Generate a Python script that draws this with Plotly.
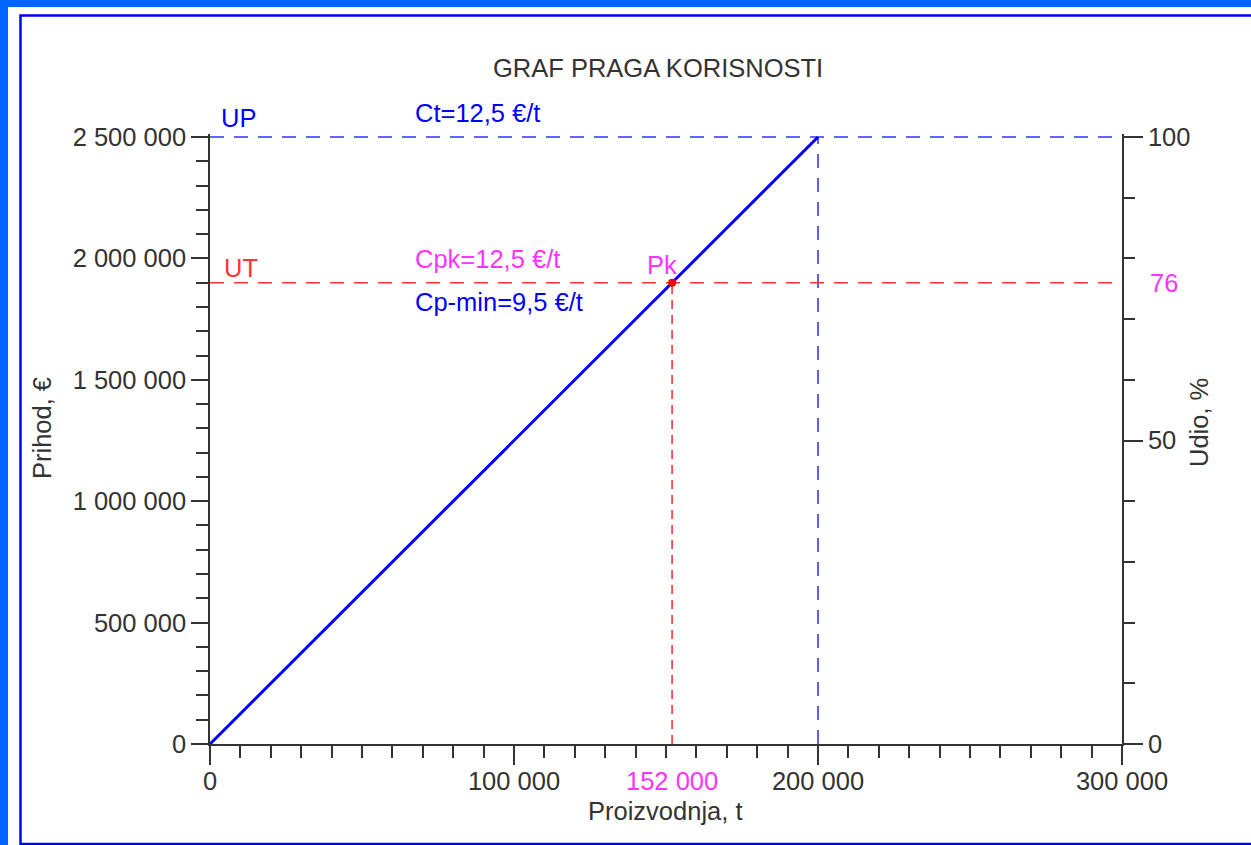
import plotly.graph_objects as go

# ---- data ----
prod_line = [0, 200000]          # t
revenue_line = [0, 2500000]      # EUR
x_range = [0, 300000]
y_max_value = 2500000
y2_max_value = 100
up_value = 2500000               # UP
ut_value = 1900000               # UT
pk_x = 152000                    # Pk production
pk_y = 1900000
max_prod = 200000
pk_share = 76                    # %
x_tickvals = [0, 100000, 200000, 300000]
x_ticktext = ["0", "100 000", "200 000", "300 000"]
y_tickvals = [0, 500000, 1000000, 1500000, 2000000, 2500000]
y_ticktext = ["0", "500 000", "1 000 000", "1 500 000", "2 000 000", "2 500 000"]
y2_tickvals = [0, 50, 100]
y2_ticktext = ["0", "50", "100"]

FONT = "Liberation Sans, Arial, sans-serif"
FS = 25.5
BLUE = "#0000ff"
BLUE_D = "#3333ff"
RED = "#ff3333"
MAG = "#ff33ff"
AX = "#333333"

W, H = 1251, 845
L, R, T, B = 210, 1122, 137, 744
EXT = 0.005  # small headroom so top dashed line is not clipped
T_PLOT = T - (B - T) * EXT

def px(xp):
    return (xp - L) / (R - L)

def py(yp):
    return (B - yp) / (B - T_PLOT)

fig = go.Figure()

dash_long = "14px,10px"
fig.add_trace(go.Scatter(x=[x_range[0], x_range[1]], y=[up_value, up_value], mode="lines",
                         line=dict(color=BLUE_D, width=1.6, dash=dash_long), hoverinfo="skip"))
fig.add_trace(go.Scatter(x=[max_prod, max_prod], y=[0, up_value], mode="lines",
                         line=dict(color=BLUE_D, width=1.6, dash=dash_long), hoverinfo="skip"))
fig.add_trace(go.Scatter(x=[x_range[0], x_range[1]], y=[ut_value, ut_value], mode="lines",
                         line=dict(color=RED, width=1.6, dash=dash_long), hoverinfo="skip"))
fig.add_trace(go.Scatter(x=[pk_x, pk_x], y=[0, pk_y], mode="lines",
                         line=dict(color=RED, width=1.6, dash="9px,6px"), hoverinfo="skip"))
fig.add_trace(go.Scatter(x=prod_line, y=revenue_line, mode="lines",
                         line=dict(color=BLUE, width=3), hoverinfo="skip"))
fig.add_trace(go.Scatter(x=[pk_x], y=[pk_y], mode="markers", cliponaxis=False,
                         marker=dict(color="#ff0000", size=8), hoverinfo="skip"))
fig.add_trace(go.Scatter(x=[0], y=[0], yaxis="y2", mode="markers",
                         marker=dict(opacity=0), hoverinfo="skip"))

axis_common = dict(showgrid=False, zeroline=False, showline=True, linecolor=AX, linewidth=1.6,
                   ticks="outside", tickcolor=AX, tickwidth=1.6,
                   tickfont=dict(family=FONT, size=FS, color="#333333"))

fig.update_layout(
    width=W, height=H,
    margin=dict(l=L, r=W - R, t=T_PLOT, b=H - B, pad=0),
    paper_bgcolor="white", plot_bgcolor="white",
    showlegend=False,
    xaxis=dict(range=x_range, tickmode="array", tickvals=x_tickvals, ticktext=x_ticktext,
               ticklen=19, ticklabelstandoff=-5,
               minor=dict(ticks="outside", dtick=10000, tick0=0, ticklen=12,
                          tickcolor=AX, tickwidth=1.6), **axis_common),
    yaxis=dict(range=[0, y_max_value * (1 + EXT)], tickmode="array", tickvals=y_tickvals,
               ticktext=y_ticktext, ticklen=17,
               minor=dict(ticks="outside", dtick=100000, tick0=0, ticklen=12,
                          tickcolor=AX, tickwidth=1.6), **axis_common),
    yaxis2=dict(range=[0, y2_max_value * (1 + EXT)], overlaying="y", side="right",
                tickmode="array", tickvals=y2_tickvals, ticktext=y2_ticktext, ticklen=19,
                minor=dict(ticks="outside", dtick=10, tick0=0, ticklen=11,
                           tickcolor=AX, tickwidth=1.6), **axis_common),
)

ann = []
def a(text, x, y, xref="x", yref="y", color="#333333", xanchor="center", yanchor="middle",
      xshift=0, yshift=0, angle=0):
    ann.append(dict(text=text, x=x, y=y, xref=xref, yref=yref, showarrow=False,
                    font=dict(family=FONT, size=FS, color=color), xanchor=xanchor,
                    yanchor=yanchor, xshift=xshift, yshift=yshift, textangle=angle))

a("GRAF PRAGA KORISNOSTI", px(658), py(68), "paper", "paper")
a("Proizvodnja, t", px(665), py(811), "paper", "paper")
a("Prihod, €", px(42), py(428), "paper", "paper", angle=-90)
a("Udio, %", px(1199), py(423), "paper", "paper", angle=-90)
a("UP", x_range[0], up_value, color=BLUE, xanchor="left", xshift=9, yshift=19)
a("Ct=12,5 €/t", 66800, up_value, color=BLUE, xanchor="left", yshift=24)
a("UT", x_range[0], ut_value, color=RED, xanchor="left", xshift=12, yshift=15)
a("Cpk=12,5 €/t", 66800, ut_value, color=MAG, xanchor="left", yshift=24)
a("Cp-min=9,5 €/t", 66800, ut_value, color=BLUE, xanchor="left", yshift=-19)
a("Pk", pk_x, pk_y, color=MAG, xshift=-10, yshift=18)
a(str(pk_share), 1, pk_share, xref="paper", yref="y2", color=MAG, xanchor="left", xshift=26)
a("152 000", pk_x, 0, yref="paper", color=MAG, yshift=-37)
fig.update_layout(annotations=ann)

# page frame
fig.add_shape(type="rect", xref="paper", yref="paper", x0=px(-5), x1=px(8), y0=py(-5), y1=py(850),
              fillcolor="#0066ff", line_width=0, layer="above")
fig.add_shape(type="rect", xref="paper", yref="paper", x0=px(-5), x1=px(1260), y0=py(-5), y1=py(7),
              fillcolor="#0066ff", line_width=0, layer="above")
fig.add_shape(type="rect", xref="paper", yref="paper", x0=px(20.5), x1=px(1262), y0=py(15.5), y1=py(844),
              line=dict(color="#0000ff", width=2.5), fillcolor="rgba(0,0,0,0)", layer="above")

fig.write_html("out.html", config={"displayModeBar": False},
               post_script="document.body.style.margin='0';document.body.style.overflow='hidden';")
